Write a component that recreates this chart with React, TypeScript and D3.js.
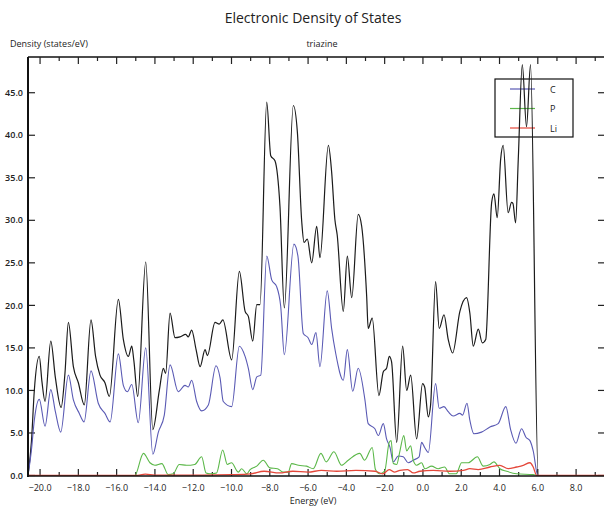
import React from 'react';
import * as d3 from 'd3';

type Pt = [number, number];

// energy (eV), density (states/eV)
const totalDos: Pt[] = [
  [-20.63, 0], [-20.45, 4], [-20.3, 10], [-20.04, 14.0], [-19.9, 11], [-19.74, 8.7], [-19.44, 15.8],
  [-19.2, 11.5], [-18.9, 8.0], [-18.7, 12], [-18.52, 18.0], [-18.26, 12.8], [-18.0, 10.9], [-17.69, 8.3],
  [-17.34, 18.3], [-17.1, 14], [-16.87, 11.8], [-16.61, 10.9], [-16.38, 9.3], [-15.91, 20.7],
  [-15.65, 16.0], [-15.39, 14.0], [-15.21, 15.2], [-15.1, 13.5], [-14.9, 9.3], [-14.48, 25.1],
  [-14.11, 5.4], [-13.77, 10.0], [-13.56, 12.6], [-13.44, 12.0], [-13.21, 19.1], [-12.95, 16.2],
  [-12.69, 16.3], [-12.39, 16.6], [-12.26, 16.3], [-12.08, 17.1], [-11.85, 14.8], [-11.64, 12.8],
  [-11.38, 14.8], [-11.26, 14.1], [-10.86, 18.0], [-10.64, 17.8], [-10.45, 18.3], [-9.99, 13.6],
  [-9.59, 24.0], [-9.29, 19.3], [-9.12, 18.7], [-8.89, 15.8], [-8.68, 20.1], [-8.51, 20.1],
  [-8.16, 43.9], [-7.95, 37.6], [-7.73, 37.0], [-7.47, 31.7], [-7.24, 19.7], [-6.77, 43.5],
  [-6.56, 40.4], [-6.33, 29.8], [-6.21, 27.4], [-6.04, 27.8], [-5.81, 25.0], [-5.55, 29.3],
  [-5.38, 25.6], [-4.94, 38.8], [-4.77, 35.7], [-4.6, 30.1], [-4.48, 28.3], [-4.16, 19.3],
  [-3.95, 25.8], [-3.72, 20.9], [-3.38, 30.7], [-3.2, 29.3], [-2.94, 21.1], [-2.86, 17.3],
  [-2.65, 18.5], [-2.3, 9.4], [-2.07, 12.2], [-1.9, 12.6], [-1.76, 14.0], [-1.64, 13.4], [-1.37, 3.9],
  [-1.06, 15.2], [-0.85, 10.0], [-0.64, 11.8], [-0.33, 4.3], [-0.02, 10.8], [0.09, 10.4], [0.28, 6.9],
  [0.4, 8.3], [0.66, 22.8], [0.85, 17.3], [1.1, 18.9], [1.32, 16.0], [1.55, 14.4], [1.93, 19.3],
  [2.28, 20.9], [2.45, 19.1], [2.63, 15.2], [2.89, 17.2], [3.1, 15.6], [3.28, 16.0], [3.59, 32.1],
  [3.71, 33.1], [3.88, 30.3], [4.06, 37.2], [4.19, 38.8], [4.45, 30.9], [4.63, 32.1], [4.7, 32.0],
  [4.84, 29.7], [4.98, 37.2], [5.19, 48.3], [5.41, 41.0], [5.62, 48.3], [6.02, 0], [9.51, 0],
];

const carbonDos: Pt[] = [
  [-20.63, 0], [-20.45, 3], [-20.3, 6.5], [-20.04, 8.95], [-19.74, 5.8], [-19.44, 10.1], [-19.2, 7.5],
  [-18.92, 5.1], [-18.52, 11.8], [-18.26, 8.9], [-17.95, 7.3], [-17.7, 6.3], [-17.34, 12.3],
  [-16.96, 8.5], [-16.61, 7.3], [-16.34, 6.3], [-15.91, 14.3], [-15.65, 10.6], [-15.44, 9.85],
  [-15.21, 10.7], [-14.87, 6.2], [-14.48, 15.0], [-14.11, 2.5], [-13.82, 5.1], [-13.51, 7.1],
  [-13.21, 13.0], [-12.78, 9.85], [-12.43, 10.6], [-12.26, 10.4], [-12.08, 11.2], [-11.82, 8.7],
  [-11.56, 7.6], [-11.21, 8.3], [-10.81, 12.9], [-10.6, 11.5], [-10.43, 8.7], [-9.99, 8.1],
  [-9.59, 15.2], [-9.29, 14.0], [-9.12, 12.6], [-8.89, 10.1], [-8.68, 11.6], [-8.47, 11.8],
  [-8.16, 25.8], [-7.9, 23.0], [-7.64, 22.2], [-7.43, 19.9], [-7.24, 14.2], [-6.74, 27.2],
  [-6.53, 25.8], [-6.25, 16.7], [-6.0, 16.2], [-5.81, 15.4], [-5.59, 16.8], [-5.38, 12.8],
  [-5.0, 21.7], [-4.77, 17.3], [-4.56, 14.4], [-4.16, 11.2], [-3.95, 14.8], [-3.67, 9.9],
  [-3.38, 12.6], [-3.03, 8.9], [-2.86, 6.1], [-2.51, 5.5], [-2.33, 4.7], [-2.07, 6.1], [-1.9, 4.3],
  [-1.72, 3.3], [-1.55, 1.6], [-1.29, 2.3], [-1.03, 2.2], [-0.77, 1.5], [-0.51, 1.8], [-0.2, 2.2],
  [-0.07, 3.9], [0.09, 3.3], [0.28, 2.7], [0.66, 10.8], [0.85, 7.9], [1.1, 8.1], [1.32, 7.5],
  [1.58, 7.0], [1.93, 7.3], [2.07, 7.1], [2.3, 8.5], [2.45, 6.5], [2.66, 4.9], [3.06, 5.1],
  [3.5, 5.7], [3.93, 6.1], [4.33, 8.1], [4.58, 5.4], [4.86, 3.8], [5.15, 5.5], [5.38, 4.5],
  [5.59, 4.1], [5.76, 2.9], [6.0, 0], [9.51, 0],
];

const phosphorusDos: Pt[] = [
  [-20.63, 0], [-15.05, 0], [-14.6, 2.6], [-14.26, 1.5], [-14.0, 1.2], [-13.64, 1.4], [-13.3, 0.1],
  [-13.04, 0.2], [-12.73, 1.3], [-12.35, 1.2], [-11.92, 1.3], [-11.56, 2.2], [-11.33, 0.3],
  [-11.12, 0.2], [-10.78, 0.3], [-10.46, 3.0], [-10.22, 1.3], [-10.0, 1.5], [-9.64, 0.4],
  [-9.47, 0.8], [-9.2, 0.2], [-9.03, 0.7], [-8.68, 1.1], [-8.34, 1.8], [-8.0, 0.9], [-7.6, 0.8],
  [-7.3, 0.4], [-7.04, 0.4], [-6.86, 1.4], [-6.5, 1.2], [-6.08, 1.1], [-5.73, 0.8], [-5.33, 2.6],
  [-5.05, 1.6], [-4.65, 2.8], [-4.25, 1.2], [-3.9, 1.8], [-3.3, 2.6], [-3.05, 1.8], [-2.65, 3.3],
  [-2.48, 0.7], [-2.25, 0.2], [-2.0, 0.5], [-1.76, 3.9], [-1.66, 4.1], [-1.55, 1.4], [-1.37, 1.3],
  [-1.2, 2.9], [-1.0, 4.7], [-0.85, 2.9], [-0.64, 3.5], [-0.51, 1.8], [-0.33, 1.2], [-0.07, 1.5],
  [0.1, 0.8], [0.45, 1.1], [0.8, 0.8], [1.13, 1.0], [1.39, 0.2], [1.74, 0.2], [2.02, 1.5],
  [2.37, 1.5], [2.84, 2.2], [3.15, 1.1], [3.5, 1.3], [3.71, 1.6], [4.02, 0.8], [4.37, 0.5],
  [4.89, 0.2], [5.76, 0.1], [6.0, 0], [9.51, 0],
];

const lithiumDos: Pt[] = [
  [-20.63, 0], [-15.0, 0], [-14.5, 0.15], [-14.0, 0.05], [-11.5, 0.05], [-10.0, 0.1], [-9.0, 0.2],
  [-8.3, 0.5], [-7.5, 0.3], [-6.8, 0.5], [-6.0, 0.4], [-5.3, 0.6], [-4.5, 0.5], [-3.5, 0.6],
  [-2.5, 0.5], [-2.1, 0.2], [-1.76, 0.7], [-1.5, 0.4], [-1.2, 0.6], [-0.8, 0.7], [-0.5, 0.3],
  [-0.16, 0.5], [0.54, 0.6], [1.39, 0.5], [2.11, 0.6], [2.45, 0.8], [2.89, 0.7], [3.5, 1.0],
  [4.02, 1.2], [4.45, 0.8], [4.89, 1.0], [5.24, 1.2], [5.59, 1.5], [5.76, 1.0], [5.94, 0], [9.51, 0],
];

const legendNames = ['C', 'P', 'Li'];
const xTickValues = d3.range(-20, 10, 1);
const yTickValues = d3.range(0, 50, 5);

const W = 604;
const H = 510;
const left = 28, right = 605, top = 57, bottom = 476;
const font = '"Open Sans", "Liberation Sans", sans-serif';

const colors = {
  total: '#1b1b1b',
  C: '#5a5ab4',
  P: '#5cb84a',
  Li: '#e4473a',
};

export default function App() {
  const x = d3.scaleLinear().domain([-20.63, 9.51]).range([left, right]);
  const y = d3.scaleLinear().domain([0, 49.2]).range([bottom - 0.5, top]);

  const line = d3.line<Pt>()
    .x(d => x(d[0]))
    .y(d => y(d[1]))
    .curve(d3.curveMonotoneX);

  const series = [
    { key: 'total', data: totalDos, color: colors.total, width: 1.2 },
    { key: 'C', data: carbonDos, color: colors.C, width: 1.1 },
    { key: 'P', data: phosphorusDos, color: colors.P, width: 1.1 },
    { key: 'Li', data: lithiumDos, color: colors.Li, width: 1.3 },
  ];

  const legendColors = [colors.C, colors.P, colors.Li];
  const legendY = [89, 108.5, 128];

  return (
    <svg width={W} height={H} style={{ position: 'absolute', left: 0, top: 0, background: '#fff' }}
      fontFamily={font}>
      <defs>
        <clipPath id="plot-clip">
          <rect x={left} y={top} width={right - left} height={bottom - top} />
        </clipPath>
      </defs>

      <text x={313} y={23} textAnchor="middle" fontSize={14} fill="#222">Electronic Density of States</text>
      <text x={10} y={47} fontSize={9} fill="#222">Density (states/eV)</text>
      <text x={322} y={47} textAnchor="middle" fontSize={9} fill="#222">triazine</text>

      {/* frame */}
      <line x1={left} x2={right} y1={top} y2={top} stroke="#111" strokeWidth={1.5} />
      <line x1={right} x2={right} y1={top} y2={bottom} stroke="#111" strokeWidth={1.5} />

      {/* x ticks, bottom and top */}
      {xTickValues.map(v => {
        const major = v % 2 === 0;
        const len = major ? 7 : 4;
        return (
          <g key={'xt' + v}>
            <line x1={x(v)} x2={x(v)} y1={bottom} y2={bottom - len} stroke="#222" strokeWidth={1.2} />
            <line x1={x(v)} x2={x(v)} y1={top} y2={top + len} stroke="#222" strokeWidth={1.2} />
            {major && (
              <text x={x(v)} y={491} textAnchor="middle" fontSize={9} fill="#222">
                {(v < 0 ? '\u2212' : '') + Math.abs(v).toFixed(1)}
              </text>
            )}
          </g>
        );
      })}

      {/* y ticks, left and right */}
      {yTickValues.map(v => (
        <g key={'yt' + v}>
          <line x1={left} x2={left + 7} y1={y(v)} y2={y(v)} stroke="#222" strokeWidth={1.2} />
          <line x1={right} x2={right - 7} y1={y(v)} y2={y(v)} stroke="#222" strokeWidth={1.2} />
          <text x={23} y={y(v)} dy="0.35em" textAnchor="end" fontSize={9} fill="#222" fontWeight={600}>
            {v.toFixed(1)}
          </text>
        </g>
      ))}

      <text x={313} y={504} textAnchor="middle" fontSize={9} fill="#222">Energy (eV)</text>

      {/* legend box (no fill, curves show through) */}
      <rect x={495} y={79} width={78} height={58} fill="none" stroke="#111" strokeWidth={1.2} />
      {legendNames.map((name, i) => (
        <g key={name}>
          <line x1={510} x2={535} y1={legendY[i]} y2={legendY[i]} stroke={legendColors[i]} strokeWidth={1.2} />
          <text x={550} y={legendY[i] + 3.5} fontSize={9} fill="#222">{name}</text>
        </g>
      ))}

      <g clipPath="url(#plot-clip)">
        {series.map(s => (
          <path key={s.key} d={line(s.data) || ''} fill="none" stroke={s.color}
            strokeWidth={s.width} strokeLinejoin="round" />
        ))}
      </g>

      {/* left and bottom axes */}
      <line x1={left} x2={left} y1={top} y2={bottom + 1} stroke="#111" strokeWidth={2} />
      <line x1={left} x2={right} y1={bottom} y2={bottom} stroke="#111" strokeWidth={1.6} />
    </svg>
  );
}
